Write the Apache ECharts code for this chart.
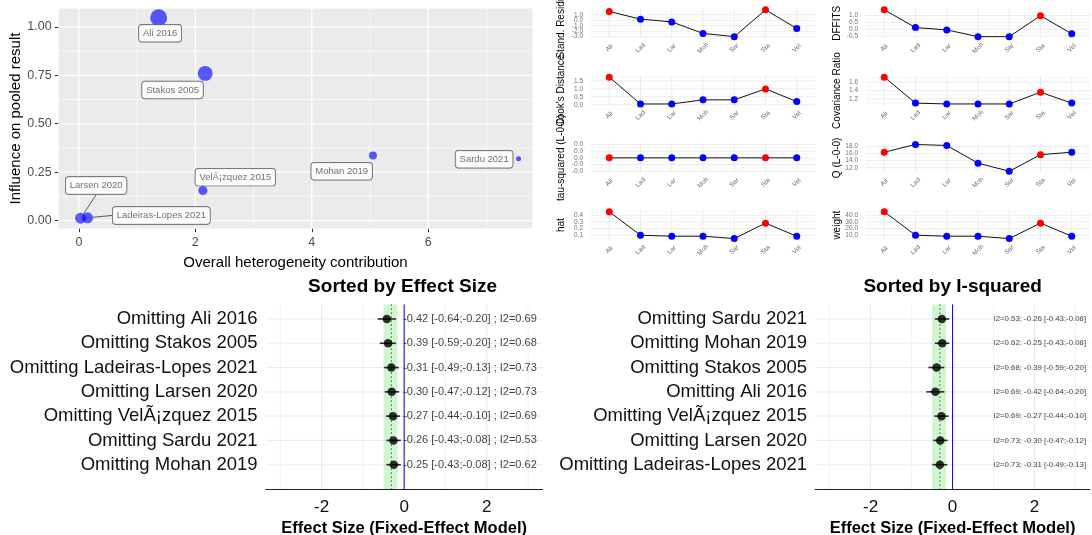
<!DOCTYPE html>
<html><head><meta charset="utf-8">
<script src="https://cdn.jsdelivr.net/npm/echarts@6/dist/echarts.min.js"></script>
<style>html,body{margin:0;padding:0;background:#fff}#c{width:1092px;height:535px}</style>
</head><body><div id="c"></div><script>
// ---------------- data ----------------
const baujatStudies = ['Ali 2016','Stakos 2005','VelÃ¡zquez 2015','Mohan 2019','Sardu 2021','Larsen 2020','Ladeiras-Lopes 2021'];
const baujatHeterogeneity = [1.37, 2.17, 2.13, 5.05, 7.55, 0.03, 0.15];
const baujatInfluence = [1.047, 0.76, 0.155, 0.336, 0.319, 0.012, 0.014];
const baujatPrecision = [60, 46, 17, 13, 5, 25, 25];
const baujatXTicks = [0, 2, 4, 6];
const baujatYTicks = [0, 0.25, 0.5, 0.75, 1.0];

const diagCategories = ['Ali','Lad','Lar','Moh','Sar','Sta','Vel'];
const diagInfluential = [true,false,false,false,false,true,false];
const standResid = [1.6, 0.2, -0.3, -2.4, -3.0, 1.9, -1.5];
const standResidTicks = [-3, -2, -1, 0, 1];
const dffits = [1.43, 0.12, -0.05, -0.55, -0.55, 1.0, -0.34];
const dffitsTicks = [-0.5, 0, 0.5, 1.0];
const cooksDistance = [1.74, 0.05, 0.05, 0.31, 0.31, 1.0, 0.2];
const cooksTicks = [0, 0.5, 1.0, 1.5];
const covRatio = [1.72, 1.10, 1.08, 1.08, 1.08, 1.36, 1.10];
const covRatioTicks = [1.2, 1.4, 1.6];
const tau2Loo = [0, 0, 0, 0, 0, 0, 0];
const tau2Ticks = [-0.0002, -0.0001, 0, 0.0001, 0.0002];
const qLoo = [16.4, 18.6, 18.3, 13.3, 11.0, 15.7, 16.4];
const qTicks = [12, 14, 16, 18];
const hatValues = [0.45, 0.10, 0.085, 0.085, 0.05, 0.28, 0.085];
const hatTicks = [0.1, 0.2, 0.3, 0.4];
const weightValues = [45, 10, 8.5, 8.5, 5, 28, 8.5];
const weightTicks = [10, 20, 30, 40];

const looStudies = ['Ali 2016','Stakos 2005','Ladeiras-Lopes 2021','Larsen 2020','VelÃ¡zquez 2015','Sardu 2021','Mohan 2019'];
const looEffect = [-0.42, -0.39, -0.31, -0.30, -0.27, -0.26, -0.25];
const looLower  = [-0.64, -0.59, -0.49, -0.47, -0.44, -0.43, -0.43];
const looUpper  = [-0.20, -0.20, -0.13, -0.12, -0.10, -0.08, -0.08];
const looI2     = [0.69, 0.68, 0.73, 0.73, 0.69, 0.53, 0.62];
const i2Order = ['Sardu 2021','Mohan 2019','Stakos 2005','Ali 2016','VelÃ¡zquez 2015','Larsen 2020','Ladeiras-Lopes 2021'];
const pooledEffect = -0.31, pooledLower = -0.50, pooledUpper = -0.16;
const forestXTicks = [-2, 0, 2];

// ---------------- styling / layout ----------------
const FONT = '"Liberation Sans", Arial, Helvetica, sans-serif';
const labelOffsets = {
  'Ali 2016':[1.5,15.5], 'Stakos 2005':[-32.7,16.6], 'VelÃ¡zquez 2015':[32.4,-13.4],
  'Mohan 2019':[-31.3,15.8], 'Sardu 2021':[-34.4,0.4], 'Larsen 2020':[15.5,-32.7],
  'Ladeiras-Lopes 2021':[73.7,-2.4]
};
const guideLine = {'Larsen 2020':true, 'Ladeiras-Lopes 2021':true};

const grids = [], xAxes = [], yAxes = [], series = [], graphic = [];
function addGrid(g, xa, ya){
  grids.push(Object.assign({show:false, borderWidth:0, containLabel:false, outerBoundsMode:'none'}, g));
  const gi = grids.length-1; xa.gridIndex = gi; ya.gridIndex = gi;
  xa.axisLine = Object.assign({onZero:false}, xa.axisLine || {});
  ya.axisLine = Object.assign({onZero:false}, ya.axisLine || {});
  xa.axisLabel = Object.assign({showMinLabel:true, showMaxLabel:true, hideOverlap:false}, xa.axisLabel || {});
  ya.axisLabel = Object.assign({showMinLabel:true, showMaxLabel:true, hideOverlap:false}, ya.axisLabel || {});
  xAxes.push(xa); yAxes.push(ya); return gi;
}
function minors(ticks, lo, hi){
  const step = ticks[1]-ticks[0]; let v = ticks[0]-step/2;
  while (v-step > lo) v -= step;
  const out = []; for (; v < hi; v += step) if (v > lo) out.push(v);
  return out;
}
function expand(vals, ticks){
  let lo = Math.min(...vals), hi = Math.max(...vals);
  if (hi-lo === 0){ lo = ticks[0]; hi = ticks[ticks.length-1]; }
  const pad = (hi-lo)*0.05; return [lo-pad, hi+pad];
}
// lines spanning a grid, drawn via the grid's own scales
function lineSeries(gi, items, ref, z){
  return {
    type:'custom', xAxisIndex:gi, yAxisIndex:gi, silent:true, z:z,
    data: items.map(()=>[ref[0], ref[1]]),
    renderItem(params, api){
      const it = items[params.dataIndex], cs = params.coordSys;
      let shape;
      if (it.dir === 'v'){ const p = api.coord([it.v, ref[1]]); shape = {x1:p[0], y1:cs.y, x2:p[0], y2:cs.y+cs.height}; }
      else { const p = api.coord([ref[0], it.v]); shape = {x1:cs.x, y1:p[1], x2:cs.x+cs.width, y2:p[1]}; }
      return {type:'line', shape, style:{stroke:it.color, lineWidth:it.width, lineDash:it.dash||null}};
    }
  };
}

// ---------------- Baujat plot ----------------
const bx = [-0.35, 7.79], by = [-0.041, 1.095];
const b = addGrid({left:58.5, top:8.5, width:474, height:220, show:true, backgroundColor:'#EBEBEB'},
  {type:'value', min:bx[0], max:bx[1], axisLine:{show:false}, splitLine:{show:false},
   axisTick:{show:true, length:3.7, lineStyle:{color:'#333'}, customValues:baujatXTicks},
   axisLabel:{customValues:baujatXTicks, fontSize:12.5, color:'#4d4d4d', margin:8, formatter:v=>String(v)},
   name:'Overall heterogeneity contribution', nameLocation:'middle', nameGap:27, nameMoveOverlap:false,
   nameTextStyle:{fontSize:15, color:'#000'}},
  {type:'value', min:by[0], max:by[1], axisLine:{show:false}, splitLine:{show:false},
   axisTick:{show:true, length:3.7, lineStyle:{color:'#333'}, customValues:baujatYTicks},
   axisLabel:{customValues:baujatYTicks, fontSize:12.5, color:'#4d4d4d', margin:6.8, formatter:v=>v.toFixed(2)},
   name:'Influence on pooled result', nameLocation:'middle', nameRotate:90, nameGap:34.8, nameMoveOverlap:false,
   nameTextStyle:{fontSize:15, color:'#000'}});
{
  const items = [];
  minors(baujatXTicks, bx[0], bx[1]).forEach(v=>items.push({dir:'v', v, color:'#fff', width:0.6}));
  minors(baujatYTicks, by[0], by[1]).forEach(v=>items.push({dir:'h', v, color:'#fff', width:0.6}));
  baujatXTicks.forEach(v=>items.push({dir:'v', v, color:'#fff', width:1.2}));
  baujatYTicks.forEach(v=>items.push({dir:'h', v, color:'#fff', width:1.2}));
  series.push(lineSeries(b, items, [0, 0.5], 1));
  const pMin = Math.min(...baujatPrecision), pMax = Math.max(...baujatPrecision);
  const sizeScale = p => Math.sqrt(25 + (p-pMin)/(pMax-pMin)*(289-25));
  series.push({
    type:'scatter', xAxisIndex:b, yAxisIndex:b, z:5,
    data: baujatStudies.map((s,i)=>({name:s, value:[baujatHeterogeneity[i], baujatInfluence[i], baujatPrecision[i]],
      labelLine:{show:!!guideLine[s]}})),
    symbolSize: v => sizeScale(v[2]),
    itemStyle:{color:'rgba(0,0,255,0.8)'},
    label:{show:true, position:'inside', formatter:p=>p.name, fontSize:9.5, color:'#4d4d4d',
      backgroundColor:'#fff', borderColor:'#333', borderWidth:0.7, borderRadius:3, padding:[4,4,3,4]},
    labelLine:{show:false, lineStyle:{color:'#333', width:0.8}},
    labelLayout: p => { const o = labelOffsets[baujatStudies[p.dataIndex]]; return {dx:o[0], dy:o[1]}; }
  });
}

// ---------------- diagnostic small panels ----------------
const diagPanels = [
  {name:'Stand. Residual', values:standResid, ticks:standResidTicks, col:0, row:0},
  {name:'DFFITS', values:dffits, ticks:dffitsTicks, col:1, row:0},
  {name:"Cook's Distance", values:cooksDistance, ticks:cooksTicks, col:0, row:1},
  {name:'Covariance Ratio', values:covRatio, ticks:covRatioTicks, col:1, row:1},
  {name:'tau-squared (L-0-0)', values:tau2Loo, ticks:tau2Ticks, col:0, row:2},
  {name:'Q (L-0-0)', values:qLoo, ticks:qTicks, col:1, row:2},
  {name:'hat', values:hatValues, ticks:hatTicks, col:0, row:3},
  {name:'weight', values:weightValues, ticks:weightTicks, col:1, row:3}
];
const catIdx = diagCategories.map((c,i)=>i);
const DX = [-0.6, 6.6];
diagPanels.forEach(pn=>{
  const dom = expand(pn.values, pn.ticks);
  const gi = addGrid({left: pn.col ? 865.5 : 590.5, top: 8.5 + 67.3*pn.row, width:225, height:29.5},
    {type:'value', min:DX[0], max:DX[1], axisLine:{show:false}, axisTick:{show:false, customValues:catIdx}, splitLine:{show:false},
     axisLabel:{customValues:catIdx, formatter:v=>diagCategories[Math.round(v)], rotate:45, fontSize:6.5, color:'#666',
       margin:10, align:'center', verticalAlign:'middle'}},
    {type:'value', min:dom[0], max:dom[1], axisLine:{show:false}, axisTick:{show:false}, splitLine:{show:false},
     axisLabel:{show:false},
     name:pn.name, nameLocation:'middle', nameRotate:90, nameGap: pn.col ? 22.8 : 23.8, nameMoveOverlap:false,
     nameTextStyle:{fontSize:10, color:'#000'}});
  const items = [];
  minors(pn.ticks, dom[0], dom[1]).forEach(v=>items.push({dir:'h', v, color:'#F0F0F0', width:0.6}));
  pn.ticks.forEach(v=>items.push({dir:'h', v, color:'#EBEBEB', width:1}));
  catIdx.forEach(v=>items.push({dir:'v', v, color:'#EBEBEB', width:1}));
  series.push(lineSeries(gi, items, [0, (dom[0]+dom[1])/2], 1));
  // y tick labels, placed at the left edge of the panel through the y scale
  series.push({
    type:'scatter', xAxisIndex:gi, yAxisIndex:gi, z:3, silent:true, clip:false,
    data: pn.ticks.map(t=>[DX[0], t]), symbolSize:0,
    label:{show:true, position:'left', distance:7.5, fontSize:6.5, color:'#4d4d4d',
      formatter:p=>pn.ticks[p.dataIndex].toFixed(1)}
  });
  series.push({
    type:'line', xAxisIndex:gi, yAxisIndex:gi, z:4,
    data: pn.values.map((v,i)=>({value:[i, v], itemStyle:{color: diagInfluential[i] ? '#FF0000' : '#0000FF'}})),
    symbol:'circle', symbolSize:7, showSymbol:true,
    lineStyle:{color:'#111', width:1}, emphasis:{disabled:true}
  });
});

// ---------------- forest plots ----------------
function forest(left, width, titleX, order, textFn, textX, textSize, textDist){
  const dom = [-3.35, 3.35], yd = [-0.6, 7.0];
  const rows = order.map(s => looStudies.indexOf(s));
  const rowIdx = rows.map((r,i)=>i);
  const gi = addGrid({left, top:304.4, width, height:184.6},
    {type:'value', min:dom[0], max:dom[1], splitLine:{show:false},
     axisLine:{show:true, lineStyle:{color:'#222', width:1.1}},
     axisTick:{show:false, customValues:forestXTicks},
     axisLabel:{customValues:forestXTicks, fontSize:17, color:'#111', margin:10, formatter:v=>String(v)},
     name:'Effect Size (Fixed-Effect Model)', nameLocation:'middle', nameGap:31, nameMoveOverlap:false,
     nameTextStyle:{fontSize:16.5, fontWeight:'bold', color:'#000'}},
    {type:'value', inverse:true, min:yd[0], max:yd[1], splitLine:{show:false}, axisLine:{show:false},
     axisTick:{show:false, customValues:rowIdx},
     axisLabel:{customValues:rowIdx, fontSize:18.5, color:'#111', margin:8.2,
       formatter:v=>'Omitting ' + looStudies[rows[Math.round(v)]]}});
  const items = [];
  minors(forestXTicks, dom[0], dom[1]).forEach(v=>items.push({dir:'v', v, color:'#EBEBEB', width:0.7}));
  forestXTicks.forEach(v=>items.push({dir:'v', v, color:'#EBEBEB', width:1.1}));
  rowIdx.forEach(v=>items.push({dir:'h', v, color:'#EBEBEB', width:1.1}));
  series.push(lineSeries(gi, items, [0, 3], 1));
  series.push({
    type:'custom', xAxisIndex:gi, yAxisIndex:gi, silent:true, z:2,
    data:[[pooledLower, pooledUpper, 3]],
    renderItem(params, api){
      const cs = params.coordSys, a = api.coord([api.value(0), 3]), c = api.coord([api.value(1), 3]);
      return {type:'rect', shape:{x:a[0], y:cs.y, width:c[0]-a[0], height:cs.height}, style:{fill:'rgba(120,225,120,0.35)'}};
    }
  });
  series.push(lineSeries(gi, [
    {dir:'v', v:pooledEffect, color:'#2f5f2f', width:1, dash:[1.5,2.5]},
    {dir:'v', v:0, color:'#0000FF', width:1}], [0, 3], 3));
  series.push({
    type:'custom', xAxisIndex:gi, yAxisIndex:gi, silent:true, z:4,
    data: rows.map((r,i)=>[looLower[r], looUpper[r], i]),
    renderItem(params, api){
      const a = api.coord([api.value(0), api.value(2)]), c = api.coord([api.value(1), api.value(2)]);
      return {type:'line', shape:{x1:a[0], y1:a[1], x2:c[0], y2:c[1]}, style:{stroke:'#2a2a2a', lineWidth:1.6}};
    }
  });
  series.push({
    type:'scatter', xAxisIndex:gi, yAxisIndex:gi, z:5, silent:true,
    data: rows.map((r,i)=>[looEffect[r], i]), symbolSize:8.5, itemStyle:{color:'#000'}
  });
  series.push({
    type:'scatter', xAxisIndex:gi, yAxisIndex:gi, z:5, silent:true,
    data: rows.map((r,i)=>[textX, i]), symbolSize:0,
    label:{show:true, position:'right', distance:textDist, fontSize:textSize, color:'#111',
      formatter:p=>textFn(rows[p.dataIndex])}
  });
  graphic.push({type:'text', x:titleX, y:286.3, silent:true,
    style:{text: order === looStudies ? 'Sorted by Effect Size' : 'Sorted by I-squared',
      align:'center', verticalAlign:'middle', fontSize:19, fontWeight:'bold', fill:'#000', fontFamily:FONT}});
}
const fmt = v => v.toFixed(2);
forest(265.8, 276.7, 402.6, looStudies,
  r => fmt(looEffect[r]) + ' [' + fmt(looLower[r]) + ';' + fmt(looUpper[r]) + '] ; I2=' + fmt(looI2[r]), 0, 11, -1);
forest(815.3, 274.5, 952.6, i2Order,
  r => 'I2=' + fmt(looI2[r]) + '; ' + fmt(looEffect[r]) + ' [' + fmt(looLower[r]) + ';' + fmt(looUpper[r]) + ']', 1, 7.8, 0);

const chart = echarts.init(document.getElementById('c'), null, {renderer:'canvas'});
chart.setOption({animation:false, textStyle:{fontFamily:FONT}, grid:grids, xAxis:xAxes, yAxis:yAxes, series, graphic});
</script></body></html>
